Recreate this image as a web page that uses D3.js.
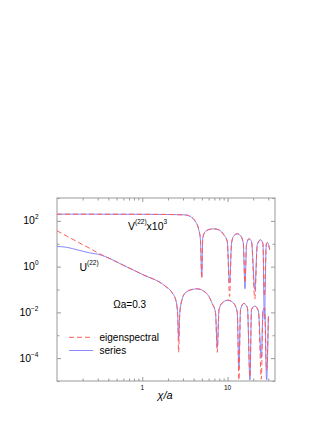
<!DOCTYPE html>
<html>
<head>
<meta charset="utf-8">
<script src="https://cdn.jsdelivr.net/npm/d3@7"></script>
<style>
body { margin: 0; background: #fff; }
text { font-family: "Liberation Sans", Arial, sans-serif; }
</style>
</head>
<body>
<div id="chart"></div>
<script>
// V^(22) x 10^3 curve, both methods on one x grid
const vX      = [0.1, 0.3, 1, 2, 3.2, 3.67, 4.2, 4.6, 4.81, 4.98, 5.12, 5.51, 6.31, 6.9, 7.9, 9.04, 9.92, 10.56, 11.14, 11.86, 13.0, 14.2, 15.3, 16.0, 16.7, 17.8, 19.1, 20.9, 22.3, 24.4, 26.0, 27.0, 28.5, 29.3, 31.2];
const vEigen  = [196, 196, 194, 190, 182, 154, 93, 40.6, 14.9, 0.3, 17.7, 34.3, 43.5, 44.9, 40.6, 24.6, 12.6, 0.05, 10.7, 22.3, 27.2, 22.3, 10.7, 0.2, 9.06, 16.5, 12.6, 0.039, 9.06, 14.9, 10, 0.05, 10, 11.4, 5.5];
const vSeries = [196, 196, 194, 190, 182, 154, 93, 40.6, 14.9, 0.35, 17.7, 34.3, 43.5, 44.9, 40.6, 24.6, 12.6, 0.2, 10.7, 22.3, 27.2, 22.3, 10.7, 0.107, 9.06, 16.5, 12.6, 0.1, 9.06, 14.9, 10, 0.005, 10, 11.4, 5.5];

// U^(22) curve
const uX      = [0.1, 0.13, 0.18, 0.25, 0.3, 0.367, 0.6, 1.0, 1.865, 2.24, 2.49, 2.6, 2.67, 2.75, 2.93, 3.2, 3.84, 4.4, 5.27, 6.02, 6.6, 7.22, 7.57, 7.95, 8.66, 10.1, 11.8, 13.0, 13.58, 14.2, 15.5, 17.1, 18.3, 19.1, 20.9, 23.0, 24.9, 26.0, 27.2, 28.7, 30.1];
const uEigen  = [36.7, 21.7, 11.3, 5.9, 4.0, 2.8, 1.15, 0.46, 0.139, 0.072, 0.031, 0.008, 1.8e-4, 0.009, 0.0367, 0.072, 0.1, 0.107, 0.084, 0.051, 0.0246, 0.01, 1.8e-4, 0.0135, 0.026, 0.034, 0.025, 0.0097, 1.1e-5, 0.0135, 0.0246, 0.016, 1.5e-5, 0.0135, 0.0188, 0.0114, 1.2e-5, 0.0114, 0.016, 3e-5, 0.0069];
const uSeries = [7.6, 7.0, 5.2, 3.9, 3.5, 2.75, 1.15, 0.46, 0.139, 0.072, 0.031, 0.008, 6.7e-4, 0.009, 0.0367, 0.072, 0.1, 0.107, 0.084, 0.051, 0.0246, 0.01, 3e-4, 0.0135, 0.026, 0.034, 0.025, 0.0097, 4e-5, 0.0135, 0.0246, 0.016, 1.1e-5, 0.0135, 0.0188, 0.0114, 1e-4, 0.0114, 0.016, 1.1e-5, 0.0069];

const xMajor = [1, 10];
const xMinor = [0.2, 0.3, 0.4, 0.5, 0.6, 0.7, 0.8, 0.9, 2, 3, 4, 5, 6, 7, 8, 9, 20, 30];
const yLabelExp = [2, 0, -2, -4];
const yAllExp = [3, 2, 1, 0, -1, -2, -3, -4, -5];

const W = 332, H = 430;
const svg = d3.select("#chart").append("svg")
  .attr("width", W).attr("height", H);

const x = d3.scaleLog().domain([0.1, 36]).range([57, 275]);
const y = d3.scaleLog().domain([1e-5, 1e3]).range([381, 198]);

const grey = "#999";

svg.append("clipPath").attr("id", "plotclip")
  .append("rect").attr("x", 57).attr("y", 198).attr("width", 218).attr("height", 183);

//frame
svg.append("rect")
  .attr("x", 57).attr("y", 198).attr("width", 218).attr("height", 183)
  .attr("fill", "none").attr("stroke", grey).attr("stroke-width", 1);

//ticks, all inward
function styleAxis(g) {
  g.select(".domain").remove();
  g.selectAll("line").attr("stroke", grey);
}
svg.append("g").attr("transform", "translate(0,381)")
  .call(d3.axisBottom(x).tickValues(xMajor).tickSize(-4).tickFormat(""))
  .call(styleAxis);
svg.append("g").attr("transform", "translate(0,381)")
  .call(d3.axisBottom(x).tickValues(xMinor).tickSize(-2.5).tickFormat(""))
  .call(styleAxis);
svg.append("g").attr("transform", "translate(0,198)")
  .call(d3.axisTop(x).tickValues(xMajor).tickSize(-4).tickFormat(""))
  .call(styleAxis);
svg.append("g").attr("transform", "translate(0,198)")
  .call(d3.axisTop(x).tickValues(xMinor).tickSize(-2.5).tickFormat(""))
  .call(styleAxis);

const yMajorVals = yLabelExp.map(e => Math.pow(10, e));
const yMinorVals = yAllExp.filter(e => !yLabelExp.includes(e)).map(e => Math.pow(10, e));
svg.append("g").attr("transform", "translate(57,0)")
  .call(d3.axisLeft(y).tickValues(yMajorVals).tickSize(-4).tickFormat(""))
  .call(styleAxis);
svg.append("g").attr("transform", "translate(57,0)")
  .call(d3.axisLeft(y).tickValues(yMinorVals).tickSize(-2.5).tickFormat(""))
  .call(styleAxis);
svg.append("g").attr("transform", "translate(275,0)")
  .call(d3.axisRight(y).tickValues(yMajorVals).tickSize(-4).tickFormat(""))
  .call(styleAxis);
svg.append("g").attr("transform", "translate(275,0)")
  .call(d3.axisRight(y).tickValues(yMinorVals).tickSize(-2.5).tickFormat(""))
  .call(styleAxis);

//tick labels
xMajor.forEach(v => {
  svg.append("text")
    .attr("x", x(v)).attr("y", 389.5)
    .attr("text-anchor", "middle")
    .attr("font-size", 6.5)
    .text(v);
});
yLabelExp.forEach(e => {
  const t = svg.append("text")
    .attr("x", 38.5).attr("y", y(Math.pow(10, e)) + 3.5)
    .attr("text-anchor", "end")
    .attr("font-size", 10.5);
  t.append("tspan").text("10");
  t.append("tspan").attr("font-size", 6.5).attr("dy", -5).text(e < 0 ? "\u2212" + (-e) : e);
});

//axis title
svg.append("text")
  .attr("x", 165).attr("y", 399)
  .attr("text-anchor", "middle")
  .attr("font-size", 11).attr("font-style", "italic")
  .text("\u03c7/a");

//curves
const line = d3.line()
  .x(d => x(d[0]))
  .y(d => y(d[1]))
  .curve(d3.curveMonotoneX);

const curves = svg.append("g").attr("clip-path", "url(#plotclip)");
const blue = "#8888ff", red = "#ff5a5a";

[[vX, vSeries], [uX, uSeries]].forEach(([xs, ys]) => {
  curves.append("path")
    .attr("d", line(xs.map((v, i) => [v, ys[i]])))
    .attr("fill", "none").attr("stroke", blue).attr("stroke-width", 1);
});
[[vX, vEigen], [uX, uEigen]].forEach(([xs, ys]) => {
  curves.append("path")
    .attr("d", line(xs.map((v, i) => [v, ys[i]])))
    .attr("fill", "none").attr("stroke", red).attr("stroke-width", 1)
    .attr("stroke-dasharray", "5,3");
});

//annotations
function supLabel(px, py, main, sup, tail, tailSup) {
  const t = svg.append("text").attr("x", px).attr("y", py).attr("font-size", 10.5);
  t.append("tspan").text(main);
  t.append("tspan").attr("font-size", 6.5).attr("dy", -6).text(sup);
  if (tail) {
    t.append("tspan").attr("dy", 6).text(tail);
    t.append("tspan").attr("font-size", 6.5).attr("dy", -6).text(tailSup);
  }
}
supLabel(128, 230, "V", "(22)", "x10", "3");
supLabel(79.5, 271, "U", "(22)");

svg.append("text")
  .attr("x", 113.3).attr("y", 308.3)
  .attr("font-size", 10)
  .text("\u03a9a=0.3");

//legend
svg.append("line")
  .attr("x1", 69).attr("x2", 91).attr("y1", 337.3).attr("y2", 337.3)
  .attr("stroke", red).attr("stroke-dasharray", "5,3");
svg.append("text").attr("x", 99.5).attr("y", 340.8).attr("font-size", 10).text("eigenspectral");
svg.append("line")
  .attr("x1", 69).attr("x2", 93).attr("y1", 350.5).attr("y2", 350.5)
  .attr("stroke", blue);
svg.append("text").attr("x", 99.5).attr("y", 354).attr("font-size", 10).text("series");
</script>
</body>
</html>
